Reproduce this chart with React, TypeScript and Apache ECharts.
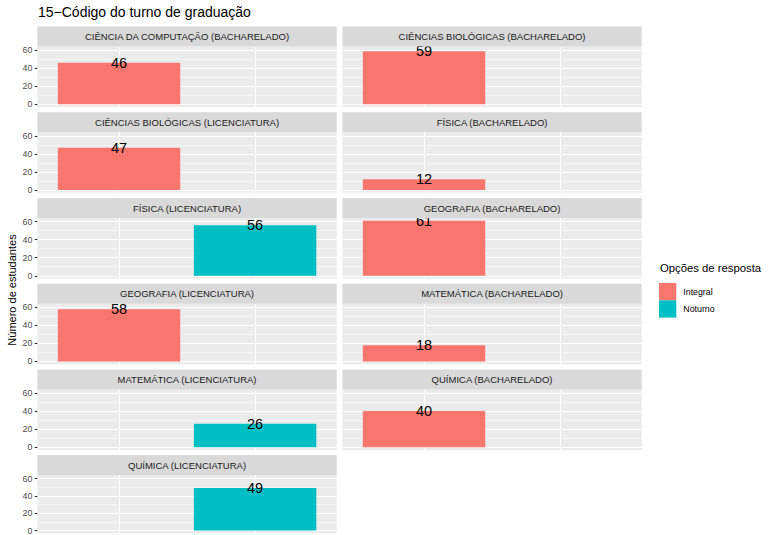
import React, { useEffect, useRef } from "react";
import * as echarts from "echarts";

const courses = [
  "CIÊNCIA DA COMPUTAÇÃO (BACHARELADO)",
  "CIÊNCIAS BIOLÓGICAS (BACHARELADO)",
  "CIÊNCIAS BIOLÓGICAS (LICENCIATURA)",
  "FÍSICA (BACHARELADO)",
  "FÍSICA (LICENCIATURA)",
  "GEOGRAFIA (BACHARELADO)",
  "GEOGRAFIA (LICENCIATURA)",
  "MATEMÁTICA (BACHARELADO)",
  "MATEMÁTICA (LICENCIATURA)",
  "QUÍMICA (BACHARELADO)",
  "QUÍMICA (LICENCIATURA)",
];
const shifts = [
  "Integral",
  "Integral",
  "Integral",
  "Integral",
  "Noturno",
  "Integral",
  "Integral",
  "Integral",
  "Noturno",
  "Integral",
  "Noturno",
];
const counts = [46, 59, 47, 12, 56, 61, 58, 18, 26, 40, 49];
const shiftOptions = ["Integral", "Noturno"];
const shiftColors = ["#F8766D", "#00BFC4"];
const yTicks = [0, 20, 40, 60];
const yMinorTicks = [10, 30, 50];
const xTicks = [1, 2];

const FONT = "Liberation Sans, Arial, Helvetica, sans-serif";

export default function App() {
  const ref = useRef<HTMLDivElement>(null);
  useEffect(() => {
    const chart = echarts.init(ref.current!, null, { renderer: "svg" });
    const maxV = Math.max(...counts);
    const yMin = -0.05 * maxV;
    const yMax = maxV * 1.05;

    const colX = [37.4, 342.4];
    const panelW = 299.3;
    const stripTop0 = 26.6;
    const rowPitch = 85.7;
    const stripH = 20;
    const panelH = 60.5;
    const unit = panelW / 2.2;

    const grids: any[] = [];
    const xAxes: any[] = [];
    const yAxes: any[] = [];
    const series: any[] = [];
    const graphics: any[] = [];

    courses.forEach((course, i) => {
      const col = i % 2;
      const row = Math.floor(i / 2);
      const left = colX[col];
      const stripTop = stripTop0 + row * rowPitch;
      const top = stripTop + stripH;
      grids.push({
        left,
        top,
        width: panelW,
        height: panelH,
        show: true,
        backgroundColor: "#EBEBEB",
        borderWidth: 0,
        containLabel: false,
      });
      xAxes.push({
        type: "value",
        gridIndex: i,
        min: 0.4,
        max: 2.6,
        axisLine: { show: false },
        axisLabel: { show: false, customValues: xTicks },
        axisTick: { show: false, customValues: xTicks },
        splitLine: { show: true, lineStyle: { color: "#FFFFFF", width: 1.07 } },
      });
      yAxes.push({
        type: "value",
        gridIndex: i,
        min: yMin,
        max: yMax,
        axisLine: { show: false },
        axisTick: {
          show: col === 0,
          length: 2.7,
          lineStyle: { color: "#333333", width: 1.07 },
          customValues: yTicks,
        },
        axisLabel: {
          show: col === 0,
          customValues: yTicks,
          color: "#4D4D4D",
          fontSize: 8.8,
          fontFamily: FONT,
          margin: 5,
        },
        splitLine: { show: true, lineStyle: { color: "#FFFFFF", width: 1.07 } },
      });
      yAxes.push({
        type: "value",
        gridIndex: i,
        min: yMin,
        max: yMax,
        position: "left",
        axisLine: { show: false },
        axisTick: { show: false, customValues: yMinorTicks },
        axisLabel: { show: false, customValues: yMinorTicks },
        splitLine: { show: true, lineStyle: { color: "#FFFFFF", width: 0.53 } },
      });
      const sIdx = shiftOptions.indexOf(shifts[i]);
      series.push({
        type: "bar",
        name: shifts[i],
        xAxisIndex: i,
        yAxisIndex: 2 * i,
        barWidth: unit * 0.9,
        itemStyle: { color: shiftColors[sIdx] },
        data: [[sIdx + 1, counts[i]]],
        label: {
          show: true,
          position: ["50%", 0],
          align: "center",
          verticalAlign: "middle",
          fontSize: 14.5,
          color: "#000000",
          fontFamily: FONT,
          formatter: (p: any) => String(p.value[1]),
        },
      });
      graphics.push({
        type: "rect",
        z: 100,
        shape: { x: left, y: stripTop, width: panelW, height: stripH },
        style: { fill: "#D9D9D9" },
      });
      graphics.push({
        type: "text",
        z: 101,
        x: left + panelW / 2,
        y: stripTop + stripH / 2,
        style: {
          text: course,
          fill: "#1A1A1A",
          fontSize: 9.5,
          fontFamily: FONT,
          align: "center",
          verticalAlign: "middle",
        },
      });
    });

    graphics.push({
      type: "text",
      z: 101,
      x: 38,
      y: 12.2,
      style: {
        text: "15−Código do turno de graduação",
        fill: "#000000",
        fontSize: 14,
        fontFamily: FONT,
        align: "left",
        verticalAlign: "middle",
      },
    });
    graphics.push({
      type: "text",
      z: 101,
      x: 11.5,
      y: 290,
      rotation: Math.PI / 2,
      style: {
        text: "Número de estudantes",
        fill: "#000000",
        fontSize: 11,
        fontFamily: FONT,
        align: "center",
        verticalAlign: "middle",
      },
    });
    graphics.push({
      type: "text",
      z: 101,
      x: 660,
      y: 268.4,
      style: {
        text: "Opções de resposta",
        fill: "#000000",
        fontSize: 11.3,
        fontFamily: FONT,
        align: "left",
        verticalAlign: "middle",
      },
    });

    chart.setOption({
      animation: false,
      backgroundColor: "#FFFFFF",
      textStyle: { fontFamily: FONT },
      grid: grids,
      xAxis: xAxes,
      yAxis: yAxes,
      series,
      legend: {
        data: shiftOptions,
        orient: "vertical",
        left: 659,
        top: 283,
        itemWidth: 17.3,
        itemHeight: 17.3,
        itemGap: 0,
        icon: "rect",
        selectedMode: false,
        padding: 0,
        textStyle: { fontSize: 8.8, color: "#000000", fontFamily: FONT, padding: [0, 0, 0, 2] },
      },
      graphic: { elements: graphics },
    });
    return () => chart.dispose();
  }, []);
  return (
    <div
      ref={ref}
      style={{ position: "fixed", left: 0, top: 0, width: 768, height: 535 }}
    />
  );
}
